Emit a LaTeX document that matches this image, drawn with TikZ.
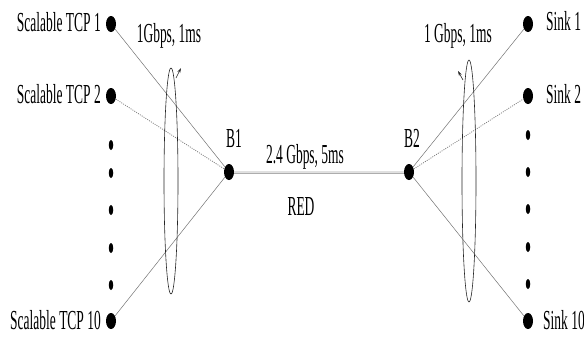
\documentclass[tikz,border=0pt]{standalone}
\usepackage{fontspec}
\setmainfont{Liberation Serif}
\usetikzlibrary{arrows.meta,shapes.geometric}
\newcommand\sqz[1]{\scalebox{0.49}[1]{#1}}
\begin{document}
\begin{tikzpicture}[x=1pt,y=-1pt,
  lbl/.style={inner sep=0pt, font=\fontsize{27.5}{30}\selectfont},
  bigdot/.style={ellipse, fill=black, minimum width=10pt, minimum height=16pt, inner sep=0pt},
  smalldot/.style={ellipse, fill=black, minimum width=4.5pt, minimum height=10pt, inner sep=0pt},
  leaf/.style={draw=black!55, line width=0.5pt},
  leafdot/.style={draw=black!50, line width=0.8pt, dash pattern=on 1pt off 1.2pt},
  core/.style={draw=black!32, line width=3pt},
  corein/.style={draw=black!12, line width=1.4pt},
  loopline/.style={draw=black!85, line width=0.6pt}]
\useasboundingbox (0,0) rectangle (584,341);
% left column
\node[bigdot] (s1) at (111,24) {};
\node[bigdot] (s2) at (111,96) {};
\node[smalldot] (l1) at (111,145) {};
\node[smalldot] (l2) at (111,173) {};
\node[smalldot] (l3) at (111,210) {};
\node[smalldot] (l4) at (111,248) {};
\node[smalldot] (l5) at (111,285) {};
\node[bigdot] (s10) at (111,321) {};
% right column
\node[bigdot] (k1) at (528,24) {};
\node[bigdot] (k2) at (528,96) {};
\node[smalldot] (r1) at (528,135) {};
\node[smalldot] (r2) at (528,172) {};
\node[smalldot] (r3) at (528,209) {};
\node[smalldot] (r4) at (528,247) {};
\node[smalldot] (r5) at (528,284) {};
\node[bigdot] (k10) at (528,321) {};
% routers
\node[bigdot] (b1) at (229,172) {};
\node[bigdot] (b2) at (409,172) {};
% connectors
\draw[leaf] (s1) -- (b1);
\draw[leafdot] (s2) -- (b1);
\draw[leaf] (s10) -- (b1);
\draw[leaf] (b2) -- (k1);
\draw[leafdot] (b2) -- (k2);
\draw[leaf] (b2) -- (k10);
\draw[core] (b1) -- (b2);
\draw[corein] (b1) -- (b2);
% labels
\node[lbl, anchor=east] (ts1) at (101,22) {\sqz{Scalable TCP 1}};
\node[lbl, anchor=east] (ts2) at (101,94) {\sqz{Scalable TCP 2}};
\node[lbl, anchor=east] (ts10) at (101,320) {\sqz{Scalable TCP 10}};
\node[lbl, anchor=west] (tk1) at (546,21) {\sqz{Sink 1}};
\node[lbl, anchor=west] (tk2) at (546,94) {\sqz{Sink 2}};
\node[lbl, anchor=west] (tk10) at (543,320) {\sqz{Sink 10}};
\node[lbl] (tb1) at (234,138) {\sqz{B1}};
\node[lbl] (tb2) at (412,138) {\sqz{B2}};
\node[lbl] (lin) at (169,36) {\sqz{1Gbps, 1ms}};
\node[lbl] (lout) at (458,36) {\sqz{1 Gbps, 1ms}};
\node[lbl] (lcore) at (305,157) {\sqz{2.4 Gbps, 5ms}};
\node[lbl] (lred) at (301,207) {\sqz{RED}};
% loops
\draw[loopline] (171,181) ellipse (7 and 113);
\draw[loopline, -{Stealth[length=5pt,width=3pt]}] (176,78) -- (181,68);
\draw[loopline] (469,181) ellipse (7 and 121);
\draw[loopline, -{Stealth[length=5pt,width=3pt]}] (463,80) -- (458,71);
\end{tikzpicture}
\end{document}
